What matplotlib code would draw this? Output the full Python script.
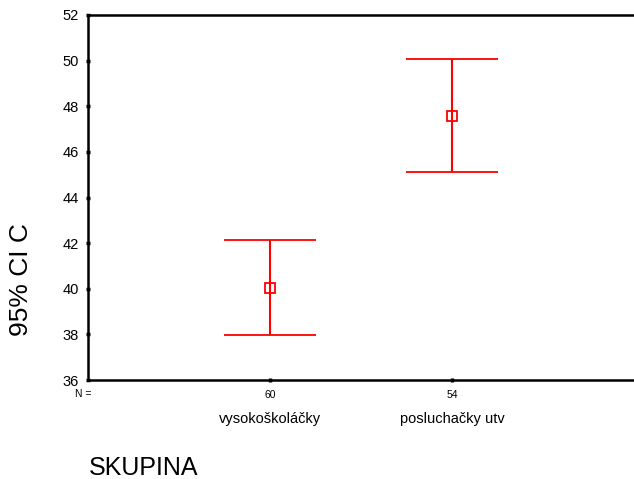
import matplotlib
matplotlib.use("Agg")
import matplotlib.pyplot as plt
import numpy as np

plt.rcParams['font.family'] = ['Liberation Sans', 'DejaVu Sans']

# data
groups = ['vysokoškoláčky', 'posluchačky utv']
n_counts = ['60', '54']
means = [40.03, 47.58]
lower = [37.97, 45.12]
upper = [42.14, 50.08]
yticks = [36, 38, 40, 42, 44, 46, 48, 50, 52]

fig = plt.figure(figsize=(6.34, 4.79), dpi=100)
ax = fig.add_axes([88/634, 1-380/479, 546/634, 365/479])

x = np.arange(1, len(groups)+1)
means = np.array(means)
err = [means - np.array(lower), np.array(upper) - means]
ax.errorbar(x, means, yerr=err, fmt='s', color='#ff0000', ecolor='#ff0000',
            mfc='none', mec='#ff0000', ms=7, mew=1.3, elinewidth=1.5,
            capsize=33, capthick=1.5)

ax.set_xlim(0, 3)
ax.set_ylim(36, 52)
ax.set_yticks(yticks)
ax.set_yticklabels([str(t) for t in yticks], fontsize=10.5)
ax.set_xticks(x)
ax.set_xticklabels(n_counts, fontsize=7.5)
ax.tick_params(axis='both', length=3, width=2.5, direction='inout', pad=5)
ax.tick_params(axis='x', pad=6)

for s in ['left', 'top', 'bottom']:
    ax.spines[s].set_linewidth(1.8)
ax.spines['right'].set_visible(False)

# category names under the N counts
for xi, g in zip(x, groups):
    ax.text(xi, -0.107, g, transform=ax.get_xaxis_transform(),
            ha='center', va='center', fontsize=10.5)
ax.text(-0.07, -0.038, 'N =', transform=ax.get_xaxis_transform(),
        ha='left', va='center', fontsize=7.5)

ax.set_ylabel('95% CI C', fontsize=19)
ax.yaxis.set_label_coords(-0.10, 0.274)
fig.text(89/634, 1-468/479, 'SKUPINA', fontsize=18, ha='left', va='center')

fig.savefig('out.png', dpi=100)
